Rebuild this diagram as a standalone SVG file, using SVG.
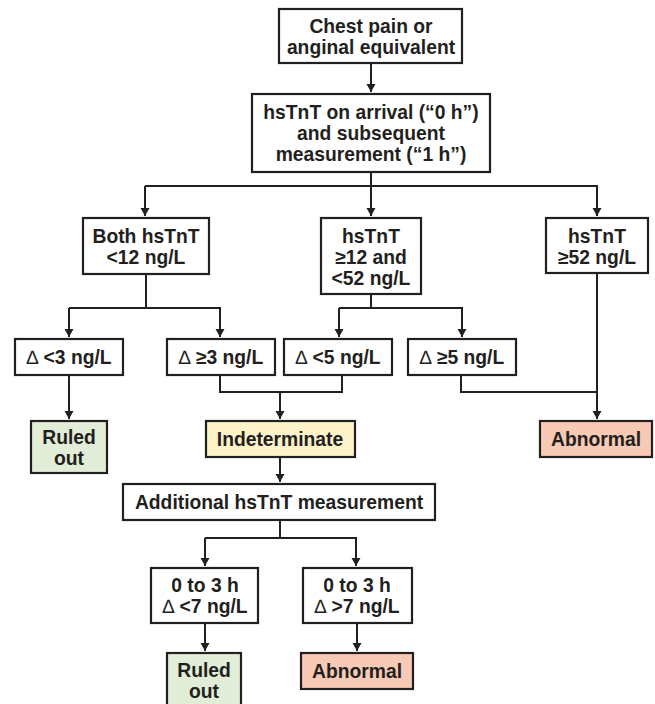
<svg xmlns="http://www.w3.org/2000/svg" width="655" height="704" viewBox="0 0 655 704">
<defs>
<style>
.box{fill:#fff;stroke:#231f20;stroke-width:2.2}
.green{fill:#e1edd6}
.yellow{fill:#fdf2c8}
.red{fill:#f8c9b4}
text{font-family:"Liberation Sans",Arial,sans-serif;font-weight:bold;font-size:19.3px;fill:#231f20;text-anchor:middle}
.d{font-weight:normal}
.c{fill:none;stroke:#231f20;stroke-width:2}
</style>
<marker id="ah" viewBox="0 0 8 12" refX="8" refY="6" markerWidth="8" markerHeight="12" markerUnits="userSpaceOnUse" orient="auto">
<path d="M0,1.5 L8,6 L0,10.5 Z" fill="#231f20"/>
</marker>
</defs>
<rect width="655" height="704" fill="#fff"/>
<g id="connectors">
<path class="c" d="M371,63 V92" marker-end="url(#ah)"/>
<path class="c" d="M371,172 V186"/>
<path class="c" d="M145,186 H598"/>
<path class="c" d="M145,186 V216" marker-end="url(#ah)"/>
<path class="c" d="M371,186 V216" marker-end="url(#ah)"/>
<path class="c" d="M597,186 V216" marker-end="url(#ah)"/>
<path class="c" d="M146,274 V308"/>
<path class="c" d="M69,308 H221"/>
<path class="c" d="M69,308 V337" marker-end="url(#ah)"/>
<path class="c" d="M220,308 V337" marker-end="url(#ah)"/>
<path class="c" d="M371,294 V308"/>
<path class="c" d="M339,308 H463"/>
<path class="c" d="M339,308 V337" marker-end="url(#ah)"/>
<path class="c" d="M462,308 V337" marker-end="url(#ah)"/>
<path class="c" d="M69,375 V419" marker-end="url(#ah)"/>
<path class="c" d="M220,375 V392 H342 V375"/>
<path class="c" d="M280,392 V419" marker-end="url(#ah)"/>
<path class="c" d="M461,375 V392 H597"/>
<path class="c" d="M597,273 V419" marker-end="url(#ah)"/>
<path class="c" d="M280,457 V482" marker-end="url(#ah)"/>
<path class="c" d="M280,520 V538"/>
<path class="c" d="M205,538 H357"/>
<path class="c" d="M205,538 V566" marker-end="url(#ah)"/>
<path class="c" d="M356,538 V566" marker-end="url(#ah)"/>
<path class="c" d="M205,623 V651" marker-end="url(#ah)"/>
<path class="c" d="M357,623 V651" marker-end="url(#ah)"/>
</g>
<g id="n-chest">
<rect class="box" x="279" y="9" width="183" height="54"/>
<text x="371" y="33">Chest pain or</text>
<text x="371" y="54">anginal equivalent</text>
</g>
<g id="n-arrival">
<rect class="box" x="252" y="94" width="238" height="78"/>
<text x="371" y="119">hsTnT on arrival (“0 h”)</text>
<text x="371" y="140">and subsequent</text>
<text x="371" y="161">measurement (“1 h”)</text>
</g>
<g id="n-both">
<rect class="box" x="83" y="218" width="126" height="56"/>
<text x="146" y="243">Both hsTnT</text>
<text x="146" y="264">&lt;12 ng/L</text>
</g>
<g id="n-mid">
<rect class="box" x="321" y="218" width="100" height="76"/>
<text x="371" y="243">hsTnT</text>
<text x="371" y="264">≥12 and</text>
<text x="371" y="285">&lt;52 ng/L</text>
</g>
<g id="n-high">
<rect class="box" x="546" y="218" width="102" height="55"/>
<text x="597" y="243">hsTnT</text>
<text x="597" y="264">≥52 ng/L</text>
</g>
<g id="n-d3lt">
<rect class="box" x="15" y="339" width="108" height="36"/>
<text x="69" y="364"><tspan class="d">∆</tspan> &lt;3 ng/L</text>
</g>
<g id="n-d3ge">
<rect class="box" x="167" y="339" width="108" height="36"/>
<text x="221" y="364"><tspan class="d">∆</tspan> ≥3 ng/L</text>
</g>
<g id="n-d5lt">
<rect class="box" x="284" y="339" width="108" height="36"/>
<text x="338" y="364"><tspan class="d">∆</tspan> &lt;5 ng/L</text>
</g>
<g id="n-d5ge">
<rect class="box" x="408" y="339" width="108" height="36"/>
<text x="462" y="364"><tspan class="d">∆</tspan> ≥5 ng/L</text>
</g>
<g id="n-ruled1">
<rect class="box green" x="31" y="421" width="76" height="52"/>
<text x="69" y="444">Ruled</text>
<text x="69" y="465">out</text>
</g>
<g id="n-indet">
<rect class="box yellow" x="206" y="421" width="149" height="36"/>
<text x="280" y="446">Indeterminate</text>
</g>
<g id="n-abn1">
<rect class="box red" x="540" y="421" width="112" height="36"/>
<text x="596" y="446">Abnormal</text>
</g>
<g id="n-additional">
<rect class="box" x="123" y="484" width="312" height="36"/>
<text x="279" y="509">Additional hsTnT measurement</text>
</g>
<g id="n-lt7">
<rect class="box" x="151" y="568" width="107" height="55"/>
<text x="205" y="592">0 to 3 h</text>
<text x="205" y="613"><tspan class="d">∆</tspan> &lt;7 ng/L</text>
</g>
<g id="n-gt7">
<rect class="box" x="303" y="568" width="109" height="55"/>
<text x="357" y="592">0 to 3 h</text>
<text x="357" y="613"><tspan class="d">∆</tspan> &gt;7 ng/L</text>
</g>
<g id="n-ruled2">
<rect class="box green" x="167" y="653" width="74" height="54"/>
<text x="204" y="677">Ruled</text>
<text x="204" y="698">out</text>
</g>
<g id="n-abn2">
<rect class="box red" x="301" y="653" width="112" height="36"/>
<text x="357" y="678">Abnormal</text>
</g>
</svg>
